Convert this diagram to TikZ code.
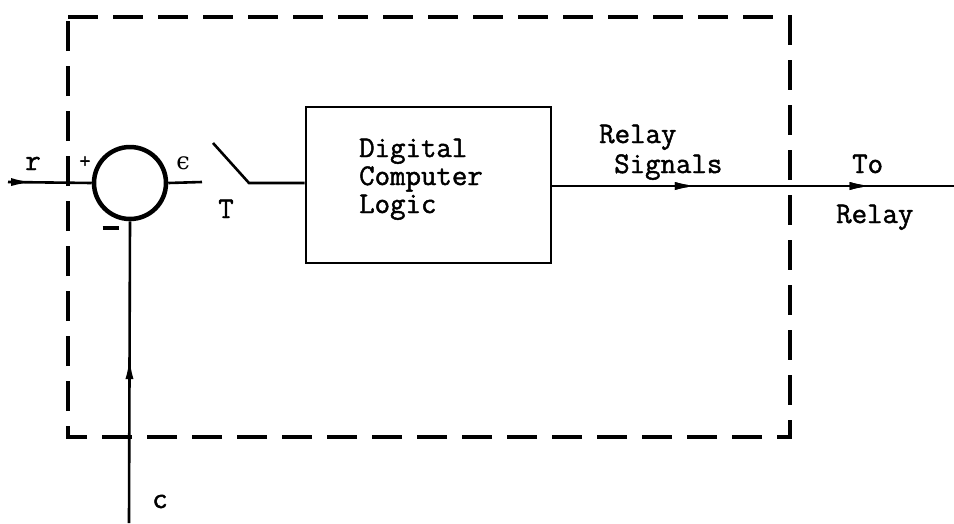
\documentclass[tikz,border=0pt]{standalone}
\usepackage{fontspec}
\newfontfamily\tw[FakeBold=1.5]{Latin Modern Mono}
\newfontfamily\gk{DejaVu Serif}
\usetikzlibrary{arrows.meta,decorations.markings}
\tikzset{
  wire/.style={line width=2.6pt},
  boundary/.style={line width=3.2pt, dash pattern=on 30pt off 15pt},
  lbl/.style={font=\tw\fontsize{30}{32}\selectfont, inner sep=0pt},
  midarrow/.style={postaction={decorate}, decoration={markings, mark=at position #1 with {\arrow{Latex[length=22pt,width=8pt]}}}},
}
\begin{document}
\begin{tikzpicture}[x=1pt,y=-1pt]
\useasboundingbox (0,0) rectangle (954,523);
% boundary
\draw[boundary] (68,17) -- (790,17) -- (790,437) -- (68,437) -- cycle;
% summing junction
\node[circle, draw, line width=4.5pt, minimum size=72pt, inner sep=0pt] (sum) at (130,183) {};
\coordinate (rin) at (8,182);
\coordinate (eout) at (202,182);
\coordinate (swa) at (213,143);
\coordinate (swb) at (249,183);
\coordinate (cend) at (129,523);
\coordinate (oend) at (954,186);
% logic box
\node[draw, wire, minimum width=245pt, minimum height=156pt, inner sep=0pt] (logic) at (428.5,185) {};
\node[lbl, anchor=base west] (lt1) at (359,157) {Digital};
\node[lbl, anchor=base west] (lt2) at (359,185) {Computer};
\node[lbl, anchor=base west] (lt3) at (359,213) {Logic};
% connectors
\draw[wire, midarrow=0.3] (rin) -- (sum.west);
\draw[wire] (sum.east) -- (eout);
\draw[wire] (swa) -- (swb) -- (logic.west |- swb);
\draw[wire, midarrow=0.55] (cend) -- (sum.south);
\draw[wire, midarrow=0.36, midarrow=0.795] (logic.east |- oend) -- (oend);
% labels
\node[lbl, anchor=base] (rlbl) at (33,170) {r};
\node[lbl, font=\tw\fontsize{22}{24}\selectfont] (plus) at (85,162) {+};
\node[inner sep=0pt, font=\gk\fontsize{24}{26}\selectfont] (eps) at (183,163) {ϵ};
\node[inner sep=0pt] (minus) at (111,228) {\rule{17pt}{3.5pt}};
\node[lbl, anchor=base] (tlbl) at (226,218) {T};
\node[lbl, anchor=base west] (rs1) at (599,143) {Relay};
\node[lbl, anchor=base west] (rs2) at (614,173) {Signals};
\node[lbl, anchor=base west] (to1) at (852,173) {To};
\node[lbl, anchor=base west] (to2) at (836,223) {Relay};
\node[lbl, anchor=base] (clbl) at (160,508) {c};
\end{tikzpicture}
\end{document}
